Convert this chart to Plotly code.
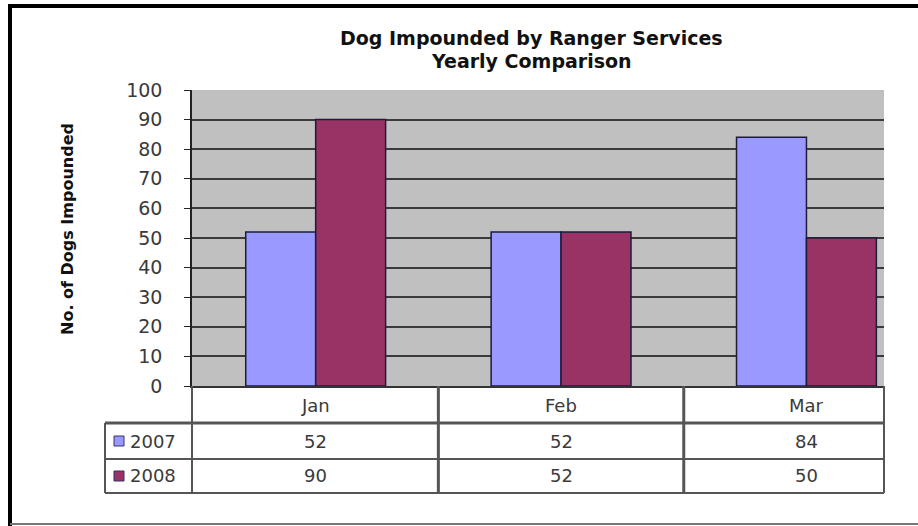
import plotly.graph_objects as go

# Monthly impound counts
months = ["Jan", "Feb", "Mar"]
series_names = ["2007", "2008"]
dogs_2007 = [52, 52, 84]
dogs_2008 = [90, 52, 50]
y_ticks = [0, 10, 20, 30, 40, 50, 60, 70, 80, 90, 100]
title_lines = ["Dog Impounded by Ranger Services", "Yearly Comparison"]

colors = {"2007": "#9999FF", "2008": "#993366"}
values = {"2007": dogs_2007, "2008": dogs_2008}

W, H = 918, 526
L, R, T, B = 192, 34, 90, 140
plot_w = W - L - R
plot_h = H - T - B


def py(px_y):
    """Pixel row (from top of page) to paper y."""
    return (H - B - px_y) / plot_h


def px(px_x):
    """Pixel column to paper x."""
    return (px_x - L) / plot_w


fig = go.Figure()
for name in series_names:
    fig.add_trace(go.Bar(
        x=months, y=values[name], name=name,
        marker=dict(color=colors[name], line=dict(color="#1c1c3a", width=1.5)),
        showlegend=False,
    ))

font_family = "DejaVu Sans, Arial, sans-serif"
text_font = dict(size=18, color="#3a3a3a", family=font_family)
shapes = []
annotations = []

# data table grid beneath the plot
line_col = "#555555"
table_top, header_bot, row1_bot, table_bot = 386, 423, 459, 493
table_left = 105
for yy, w in [(header_bot, 3), (row1_bot, 2), (table_bot, 2)]:
    shapes.append(dict(type="line", xref="paper", yref="paper",
                       x0=px(table_left), x1=1, y0=py(yy), y1=py(yy),
                       line=dict(color=line_col, width=w)))
shapes.append(dict(type="line", xref="paper", yref="paper",
                   x0=px(table_left), x1=px(table_left), y0=py(header_bot), y1=py(table_bot),
                   line=dict(color=line_col, width=2)))
shapes.append(dict(type="line", xref="paper", yref="paper",
                   x0=0, x1=0, y0=py(table_top), y1=py(table_bot),
                   line=dict(color=line_col, width=2)))
shapes.append(dict(type="line", xref="paper", yref="paper",
                   x0=1, x1=1, y0=py(table_top), y1=py(table_bot),
                   line=dict(color=line_col, width=2)))
for sep in [0.5, 1.5]:
    shapes.append(dict(type="line", xref="x", yref="paper",
                       x0=sep, x1=sep, y0=py(table_top), y1=py(table_bot),
                       line=dict(color=line_col, width=3)))

# header row and value rows
row_centres = {"2007": 441, "2008": 476}
for m in months:
    annotations.append(dict(x=m, y=py(405), xref="x", yref="paper", text=m,
                            xanchor="center", yanchor="middle",
                            showarrow=False, font=text_font))
for name in series_names:
    for m, v in zip(months, values[name]):
        annotations.append(dict(x=m, y=py(row_centres[name]), xref="x", yref="paper",
                                text=str(v), xanchor="center", yanchor="middle",
                                showarrow=False, font=text_font))
    # legend key + label in the table's first column
    cy = row_centres[name]
    shapes.append(dict(type="rect", xref="paper", yref="paper",
                       x0=px(114), x1=px(124), y0=py(cy - 5), y1=py(cy + 5),
                       fillcolor=colors[name], line=dict(color="#333366", width=1)))
    annotations.append(dict(x=px(128), y=py(cy), xref="paper", yref="paper",
                            xanchor="left", yanchor="middle", text=name, showarrow=False,
                            font=text_font))

# axis title
annotations.append(dict(x=px(67), y=py(229), xref="paper", yref="paper",
                        xanchor="center", yanchor="middle",
                        text="<b>No. of Dogs Impounded</b>", textangle=-90, showarrow=False,
                        font=dict(size=16, color="#111111", family=font_family)))

# two-line chart title
for line, cy in zip(title_lines, [38, 61]):
    annotations.append(dict(x=px(531), y=py(cy), xref="paper", yref="paper",
                            xanchor="center", yanchor="middle",
                            text=f"<b>{line}</b>", showarrow=False,
                            font=dict(size=19, color="#111111", family=font_family)))

# chart frame
shapes.append(dict(type="line", xref="paper", yref="paper", x0=px(9), x1=px(918),
                   y0=py(6), y1=py(6), line=dict(color="#000000", width=4)))
shapes.append(dict(type="line", xref="paper", yref="paper", x0=px(10), x1=px(10),
                   y0=py(4), y1=py(526), line=dict(color="#000000", width=4)))
shapes.append(dict(type="line", xref="paper", yref="paper", x0=px(10), x1=px(918),
                   y0=py(524), y1=py(524), line=dict(color="#777777", width=2)))

fig.update_layout(
    width=W, height=H,
    margin=dict(l=L, r=R, t=T, b=B),
    paper_bgcolor="#ffffff",
    plot_bgcolor="#C0C0C0",
    barmode="group",
    bargap=0.43,
    bargroupgap=0,
    xaxis=dict(range=[-0.504, 2.316], showticklabels=False, showgrid=False,
               showline=True, linecolor="#333333", linewidth=2, ticks=""),
    yaxis=dict(range=[0, 100], tickvals=y_ticks, showgrid=True,
               gridcolor="#3a3a3a", gridwidth=1.5, zeroline=False,
               showline=True, linecolor="#222222", linewidth=1.5,
               ticks="outside", ticklen=6, tickcolor="#222222",
               ticklabelstandoff=18,
               tickfont=dict(size=19, color="#3a3a3a", family=font_family)),
    shapes=shapes,
    annotations=annotations,
    font=dict(family=font_family),
)

fig.write_html("out.html")
